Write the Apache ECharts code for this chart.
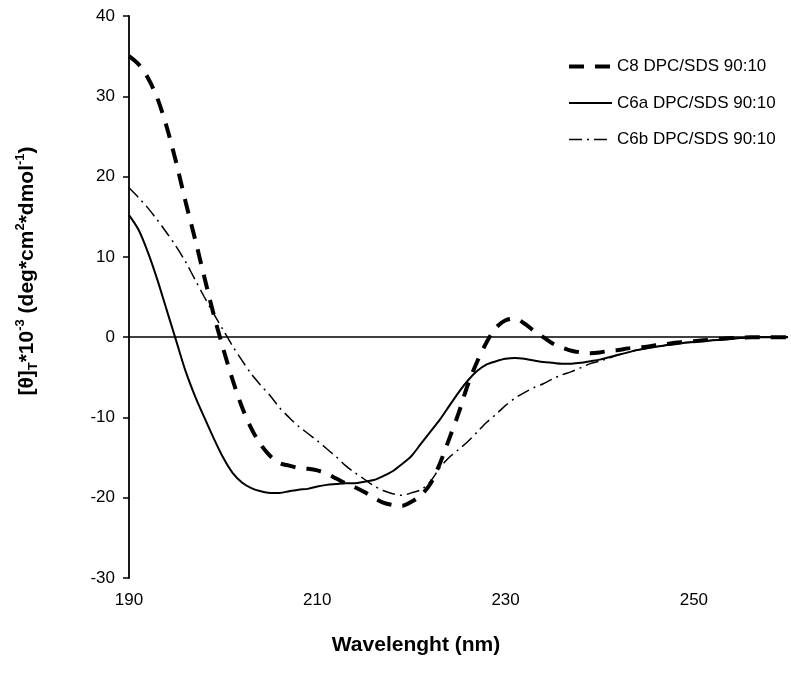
<!DOCTYPE html>
<html>
<head>
<meta charset="utf-8">
<script src="https://cdn.jsdelivr.net/npm/echarts/dist/echarts.min.js"></script>
<style>html,body{margin:0;padding:0;background:#fff}#c{width:791px;height:675px}</style>
</head>
<body>
<div id="c"></div>
<script>
const wavelengths = [190,191,192,193,194,195,196,197,198,199,200,201,202,203,204,205,206,207,208,209,210,211,212,213,214,215,216,217,218,219,220,221,222,223,224,225,226,227,228,229,230,231,232,233,234,235,236,237,238,239,240,241,242,243,244,245,246,247,248,249,250,251,252,253,254,255,256,257,258,259,260];

const c8 = [35.0,34.0,32.3,29.8,26.2,21.8,16.9,12.3,7.5,2.8,-1.4,-5.3,-8.7,-11.4,-13.4,-14.8,-15.7,-16.0,-16.3,-16.4,-16.6,-17.0,-17.6,-18.2,-18.7,-19.3,-20.0,-20.6,-20.9,-21.0,-20.5,-19.7,-18.3,-15.8,-12.7,-9.5,-5.9,-3.0,-0.6,1.2,2.1,2.3,1.7,0.8,0.0,-0.8,-1.3,-1.7,-1.9,-2.0,-1.9,-1.7,-1.6,-1.4,-1.3,-1.2,-1.0,-0.9,-0.7,-0.6,-0.5,-0.4,-0.3,-0.2,-0.1,-0.1,0,0,0,0,0];

const c6a = [15.2,13.4,10.6,7.2,3.4,-0.4,-4.2,-7.3,-10.0,-12.6,-15.0,-16.9,-18.1,-18.8,-19.2,-19.4,-19.4,-19.2,-19.0,-18.9,-18.6,-18.4,-18.3,-18.2,-18.2,-18.0,-17.8,-17.3,-16.7,-15.8,-14.8,-13.3,-11.8,-10.3,-8.6,-6.9,-5.4,-4.2,-3.4,-3.0,-2.7,-2.6,-2.7,-2.9,-3.1,-3.2,-3.3,-3.3,-3.2,-3.0,-2.8,-2.5,-2.2,-1.9,-1.6,-1.4,-1.2,-1.0,-0.9,-0.7,-0.6,-0.5,-0.4,-0.3,-0.2,-0.1,-0.1,0,0,0,0];

const c6b = [18.6,17.4,16.1,14.6,13.0,11.3,9.4,7.2,5.0,2.9,0.9,-1.1,-2.9,-4.6,-6.0,-7.3,-8.8,-10.0,-11.1,-12.0,-12.9,-13.9,-14.9,-16.0,-16.9,-17.7,-18.5,-19.1,-19.5,-19.7,-19.4,-19.0,-18.0,-16.3,-15.0,-14.0,-13.0,-11.8,-10.6,-9.6,-8.5,-7.6,-6.9,-6.3,-5.8,-5.2,-4.7,-4.3,-3.8,-3.3,-3.0,-2.6,-2.2,-1.9,-1.6,-1.4,-1.2,-1.0,-0.9,-0.7,-0.6,-0.5,-0.4,-0.3,-0.2,-0.1,-0.1,0,0,0,0];

const seriesNames = ['C8 DPC/SDS 90:10','C6a DPC/SDS 90:10','C6b DPC/SDS 90:10'];
const yTicks = [-30,-20,-10,0,10,20,30,40];
const xTicks = [190,210,230,250];

function pairs(vals){ return wavelengths.map((w,i)=>[w,vals[i]]); }

const FONT = 'Liberation Sans, Arial, sans-serif';
const lineStyles = [
  {color:'#000', width:4, type:[15,11], cap:'butt'},
  {color:'#000', width:2, type:'solid'},
  {color:'#000', width:1.5, type:[13,5,2,5]}
];
const chart = echarts.init(document.getElementById('c'), null, {renderer:'canvas'});
chart.setOption({
  animation:false,
  backgroundColor:'#fff',
  grid:{left:129, top:16, right:-10, bottom:97, containLabel:false},
  xAxis:{
    type:'value', min:190, max:260, interval:20,
    axisLine:{show:false}, axisTick:{show:false}, splitLine:{show:false},
    axisLabel:{margin:14, color:'#000', fontSize:17, fontFamily:FONT,
      formatter:v=> xTicks.indexOf(v)>=0 ? String(v) : ''}
  },
  yAxis:{
    type:'value', min:-30, max:40, interval:10,
    axisLine:{show:true, onZero:false, lineStyle:{color:'#000', width:1.8}},
    axisTick:{show:true, length:6, lineStyle:{color:'#000', width:1.5}},
    splitLine:{show:false},
    axisLabel:{margin:14, color:'#000', fontSize:17, fontFamily:FONT,
      formatter:v=> yTicks.indexOf(v)>=0 ? String(v) : ''}
  },
  legend:{
    orient:'vertical', left:562, top:53, itemWidth:43, itemHeight:20, itemGap:19.5, itemTextGap:7,
    selectedMode:false,
    itemStyle:{opacity:0},
    textStyle:{color:'#000', fontSize:17, fontFamily:FONT},
    data:seriesNames.map((n,i)=>({name:n, itemStyle:{opacity:0}, lineStyle:{color:'#000', width:lineStyles[i].width, type:lineStyles[i].type, cap:'butt'}}))
  },
  series:[
    {name:seriesNames[0], type:'line', data:pairs(c8), symbol:'none', smooth:0.3, z:3,
     lineStyle:lineStyles[0]},
    {name:seriesNames[1], type:'line', data:pairs(c6a), symbol:'none', smooth:0.3, z:2,
     lineStyle:lineStyles[1],
     markLine:{silent:true, symbol:['none','none'], label:{show:false},
       lineStyle:{color:'#000', width:1.5, type:'solid'}, data:[{yAxis:0}]}},
    {name:seriesNames[2], type:'line', data:pairs(c6b), symbol:'none', smooth:0.3, z:2,
     lineStyle:lineStyles[2]}
  ],
  graphic:[
    {type:'text', x:416, y:645, style:{text:'Wavelenght (nm)', fill:'#000', font:'bold 21px '+FONT, align:'center', verticalAlign:'middle'}},
    {type:'text', x:27, y:271, rotation:Math.PI/2,
     style:{text:'{m|[θ]}{sub|T}{m|*10}{sup|-3}{m| (deg*cm}{sup|2}{m|*dmol}{sup|-1}{m|)}',
       align:'center', verticalAlign:'middle', fill:'#000',
       rich:{
         m:{fontSize:21, fontWeight:'bold', fontFamily:FONT, lineHeight:26, fill:'#000'},
         sup:{fontSize:13, fontWeight:'bold', fontFamily:FONT, lineHeight:13, verticalAlign:'top', fill:'#000'},
         sub:{fontSize:13, fontWeight:'bold', fontFamily:FONT, lineHeight:13, verticalAlign:'bottom', fill:'#000'}
       }}}
  ]
});
</script>
</body>
</html>
